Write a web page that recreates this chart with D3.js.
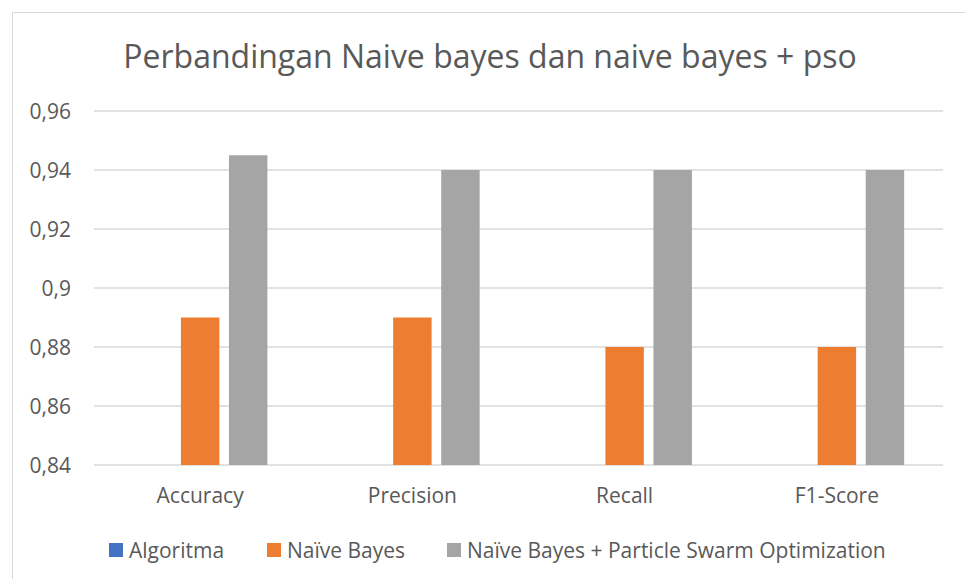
<!DOCTYPE html>
<html><head><meta charset="utf-8">
<script src="https://cdn.jsdelivr.net/npm/d3@7"></script>
<style>body{margin:0;background:#fff}svg{display:block}text{font-family:"Open Sans",sans-serif;fill:#595959}</style>
</head><body>
<svg id="c" width="965" height="579"></svg>
<script>
const title = "Perbandingan Naive bayes dan naive bayes + pso";
const categories = ["Accuracy","Precision","Recall","F1-Score"];
const seriesNames = ["Algoritma","Naïve Bayes","Naïve Bayes + Particle Swarm Optimization"];
const algoritma = [0,0,0,0];
const naiveBayes = [0.89,0.89,0.88,0.88];
const nbPso = [0.945,0.94,0.94,0.94];
const yTicks = [0.84,0.86,0.88,0.90,0.92,0.94,0.96];
const tickLabels = ["0,84","0,86","0,88","0,9","0,92","0,94","0,96"];
const colors = ["#4472C4","#ED7D31","#A5A5A5"];

const series = [algoritma, naiveBayes, nbPso];
const svg = d3.select("#c");
const W=965,H=579;
svg.append("rect").attr("x",12.5).attr("y",12.5).attr("width",W).attr("height",H)
  .attr("fill","none").attr("stroke","#d9d9d9").attr("stroke-width",1);

const pLeft=94, pRight=943, pTop=111, pBottom=465;
const y = d3.scaleLinear().domain([0.84,0.96]).range([pBottom,pTop]);
const x0 = d3.scaleBand().domain(categories).range([pLeft,pRight]).paddingInner(0.366).paddingOuter(0.183);
const x1 = d3.scaleBand().domain(d3.range(3)).range([0,x0.bandwidth()]).paddingInner(0.2);

svg.append("text").attr("x",490).attr("y",68).attr("text-anchor","middle")
  .style("font-size","32px").text(title);

svg.append("g").selectAll("line").data(yTicks).join("line")
  .attr("x1",pLeft).attr("x2",pRight).attr("y1",d=>y(d)).attr("y2",d=>y(d))
  .attr("stroke","#d9d9d9").attr("stroke-width",1.3);
svg.append("g").selectAll("text").data(yTicks).join("text")
  .attr("x",71).attr("y",d=>y(d)+7.5).attr("text-anchor","end")
  .style("font-size","21px").text((d,i)=>tickLabels[i]);

const g = svg.append("g");
categories.forEach((c,ci)=>{
  series.forEach((s,si)=>{
    const v = s[ci];
    const yt = y(Math.max(v,0.84));
    g.append("rect").attr("x",x0(c)+x1(si)).attr("width",x1.bandwidth())
      .attr("y",yt).attr("height",Math.max(0,y(0.84)-yt)).attr("fill",colors[si]);
  });
});

svg.append("g").selectAll("text").data(categories).join("text")
  .attr("x",d=>x0(d)+x0.bandwidth()/2).attr("y",503).attr("text-anchor","middle")
  .style("font-size","21px").text(d=>d);

const legX=[109,267,447];
const lg = svg.append("g");
seriesNames.forEach((n,i)=>{
  lg.append("rect").attr("x",legX[i]).attr("y",543).attr("width",14).attr("height",14).attr("fill",colors[i]);
  lg.append("text").attr("x",legX[i]+20).attr("y",557.5).style("font-size",'21px').text(n);
});
</script>
</body></html>
